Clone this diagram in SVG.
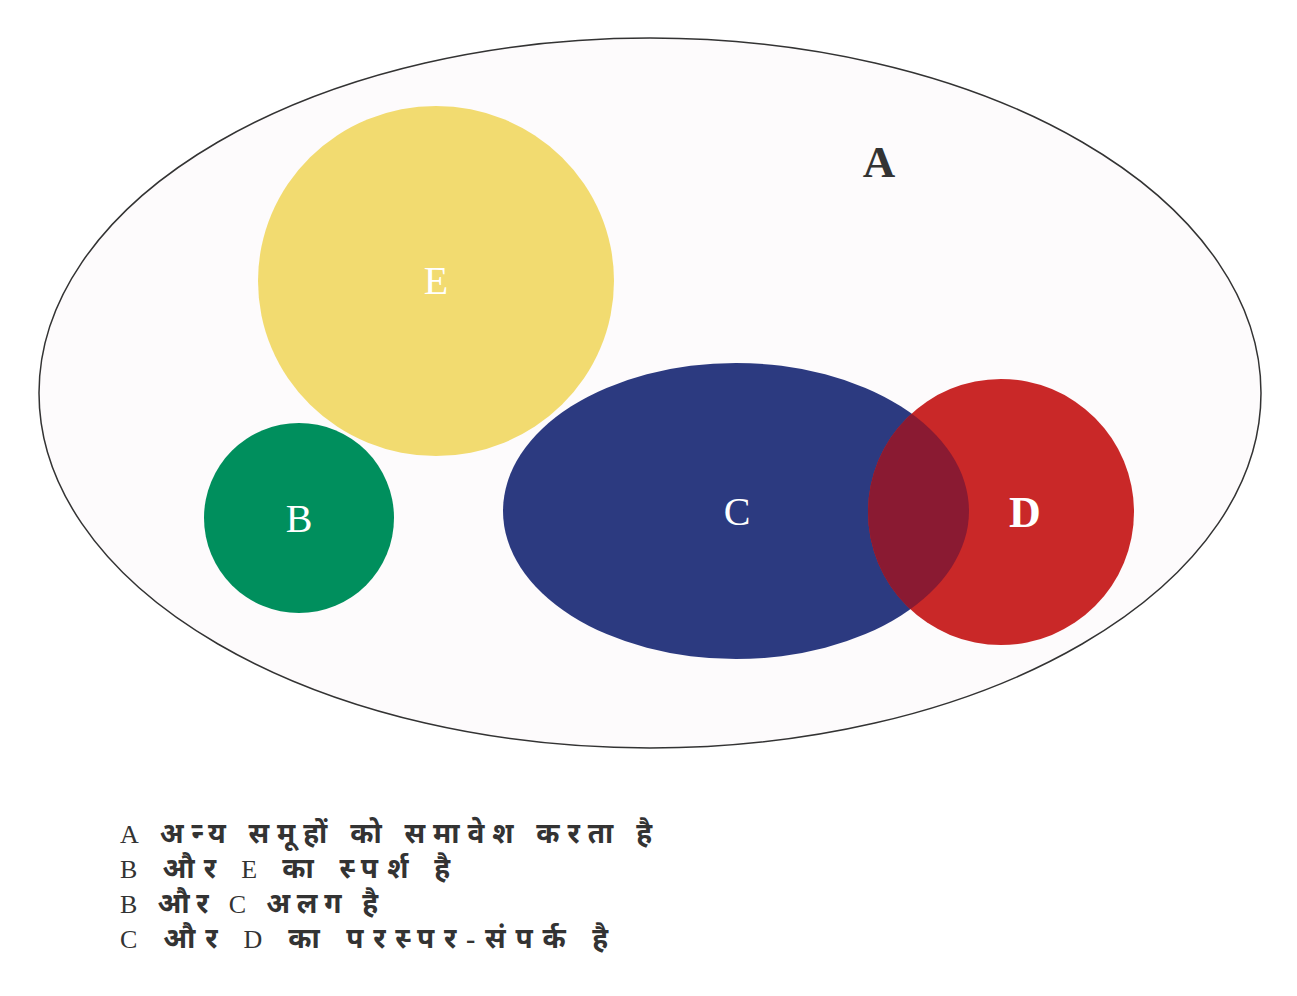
<svg xmlns="http://www.w3.org/2000/svg" width="1297" height="996" viewBox="0 0 1297 996">
  <style>
    .lbl { font-family: "Liberation Serif", "Times New Roman", serif; fill: #ffffff; text-anchor: middle; }
    .note { font-family: "Liberation Serif", "Noto Sans Devanagari", "Noto Sans", "DejaVu Sans", serif; font-size: 26px; fill: #333333; }
    .hi { font-size: 28px; font-weight: bold; }
  </style>
  <defs>
    <clipPath id="clipD">
      <ellipse cx="1001" cy="512" rx="133" ry="133"/>
    </clipPath>
  </defs>
  <rect x="0" y="0" width="1297" height="996" fill="#ffffff"/>
  <g id="node-A">
    <ellipse cx="650" cy="393" rx="611" ry="355" fill="#fdfbfc" stroke="#333333" stroke-width="1.5"/>
    <text x="879" y="177" font-family="Liberation Serif, Times New Roman, serif" font-size="45" font-weight="bold" fill="#333333" text-anchor="middle">A</text>
  </g>
  <g id="node-B">
    <ellipse cx="299" cy="518" rx="95" ry="95" fill="#008f5d"/>
    <text class="lbl" x="299" y="532" font-size="40">B</text>
  </g>
  <g id="node-E">
    <ellipse cx="436" cy="281" rx="178" ry="175" fill="#f2db70"/>
    <text class="lbl" x="436" y="294" font-size="40">E</text>
  </g>
  <g id="node-C">
    <ellipse cx="736" cy="511" rx="233" ry="148" fill="#2c3a80"/>
    <text class="lbl" x="737" y="525" font-size="40">C</text>
  </g>
  <g id="node-D">
    <ellipse cx="1001" cy="512" rx="133" ry="133" fill="#c92828"/>
    <ellipse cx="736" cy="511" rx="233" ry="148" fill="#8a1a32" clip-path="url(#clipD)"/>
    <text class="lbl" x="1025" y="527" font-size="44" font-weight="bold">D</text>
  </g>
  <g id="connectors"></g>
  <g id="notes">
    <text class="note" x="120" y="843" textLength="532" lengthAdjust="spacing">A <tspan class="hi">अन्य समूहों को समावेश करता है</tspan></text>
    <text class="note" x="120" y="878" textLength="330" lengthAdjust="spacing">B <tspan class="hi">और</tspan> E <tspan class="hi">का स्पर्श है</tspan></text>
    <text class="note" x="120" y="913" textLength="258" lengthAdjust="spacing">B <tspan class="hi">और</tspan> C <tspan class="hi">अलग है</tspan></text>
    <text class="note" x="120" y="948" textLength="488" lengthAdjust="spacing">C <tspan class="hi">और</tspan> D <tspan class="hi">का परस्पर-संपर्क है</tspan></text>
  </g>
</svg>
